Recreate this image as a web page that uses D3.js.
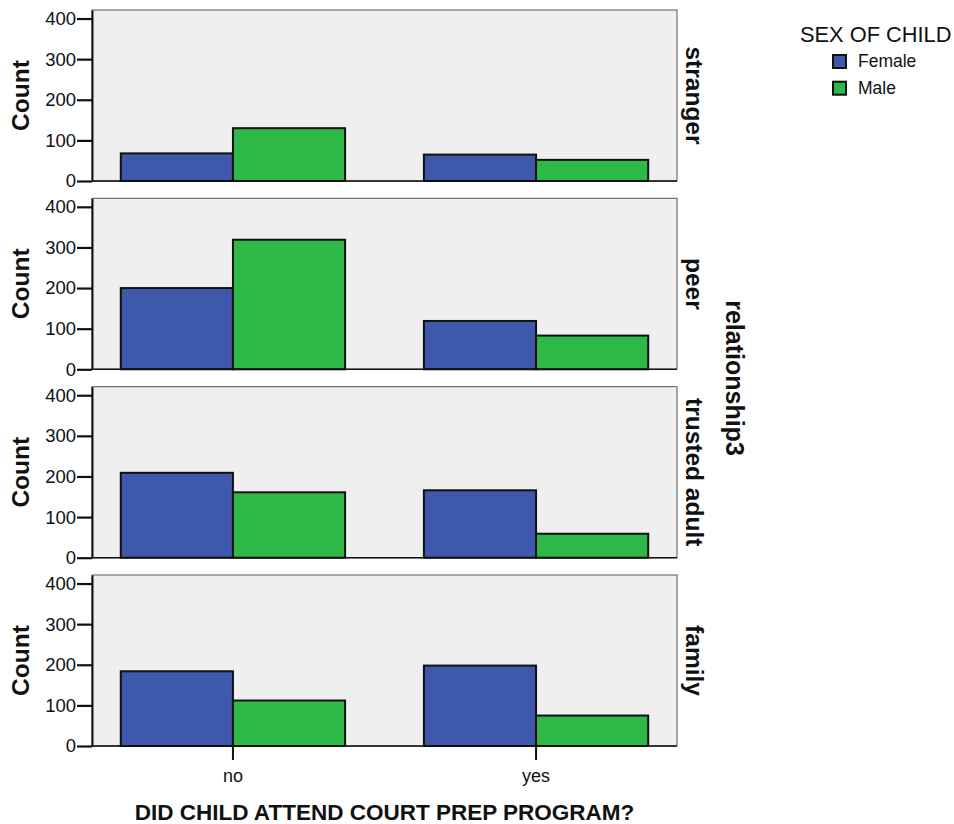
<!DOCTYPE html>
<html>
<head>
<meta charset="utf-8">
<script src="https://cdn.jsdelivr.net/npm/d3@7"></script>
<style>
  body { margin: 0; background: #fff; }
  svg { display: block; font-family: "Liberation Sans", Arial, sans-serif; }
</style>
</head>
<body>
<svg id="chart" width="954" height="824"></svg>
<script>
// ---- data ----
const categories = ["no", "yes"];
const relationships = ["stranger", "peer", "trusted adult", "family"];
const sexes = ["Female", "Male"];
const femaleCounts = [
  [68, 65],    // stranger
  [200, 119],  // peer
  [209, 166],  // trusted adult
  [184, 198]   // family
];
const maleCounts = [
  [130, 52],
  [319, 83],
  [161, 59],
  [112, 75]
];
const yTicks = [0, 100, 200, 300, 400];
const xTitle = "DID CHILD ATTEND COURT PREP PROGRAM?";
const yTitle = "Count";
const facetTitle = "relationship3";
const legendTitle = "SEX OF CHILD";

// ---- layout ----
const svg = d3.select("#chart");
const left = 92, right = 677;
const panelH = 171;
const panelTops = [10, 198.3, 386.7, 575];
const colors = d3.scaleOrdinal().domain(sexes).range(["#3E58AB", "#2EB848"]);

const x = d3.scaleBand().domain(categories).range([left, right])
  .paddingInner(0.26).paddingOuter(0.095);
const xs = d3.scaleBand().domain(sexes).range([0, x.bandwidth()]);

relationships.forEach((rel, i) => {
  const t = panelTops[i];
  const y = d3.scaleLinear().domain([0, 421]).range([t + panelH, t]);
  const g = svg.append("g");

  // panel background + frame
  g.append("rect").attr("x", left).attr("y", t).attr("width", right - left).attr("height", panelH)
    .attr("fill", "#EFEFEF").attr("stroke", "#555").attr("stroke-width", 1);

  // bars
  const rows = categories.map((c, ci) => ({c, vals: [
    {s: "Female", v: femaleCounts[i][ci]},
    {s: "Male", v: maleCounts[i][ci]}
  ]}));
  rows.forEach(r => {
    g.selectAll(null).data(r.vals).enter().append("rect")
      .attr("x", d => x(r.c) + xs(d.s))
      .attr("y", d => y(d.v))
      .attr("width", xs.bandwidth())
      .attr("height", d => y(0) - y(d.v))
      .attr("fill", d => colors(d.s))
      .attr("stroke", "#111").attr("stroke-width", 2);
  });

  // baseline
  g.append("line").attr("x1", left).attr("x2", right).attr("y1", y(0)).attr("y2", y(0))
    .attr("stroke", "#111").attr("stroke-width", 1.5);

  // y axis
  const ya = g.append("g").attr("transform", `translate(${left},0)`)
    .call(d3.axisLeft(y).tickValues(yTicks).tickSize(15).tickSizeOuter(0).tickPadding(1));
  ya.select(".domain").attr("stroke", "#111").attr("stroke-width", 2);
  ya.selectAll(".tick line").attr("stroke", "#111").attr("stroke-width", 2.2);
  ya.selectAll(".tick text").attr("font-size", 18.5).attr("fill", "#111")
    .attr("font-family", "Liberation Sans, Arial, sans-serif");

  // y title
  g.append("text").attr("transform", `translate(29,${t + panelH / 2}) rotate(-90)`)
    .attr("text-anchor", "middle").attr("font-size", 24.5).attr("font-weight", "bold")
    .attr("fill", "#111").text(yTitle);

  // facet label
  g.append("text").attr("transform", `translate(686,${t + panelH / 2}) rotate(90)`)
    .attr("text-anchor", "middle").attr("font-size", 24.5).attr("font-weight", "bold")
    .attr("fill", "#111").text(rel);

  if (i === relationships.length - 1) {
    const xa = g.append("g").attr("transform", `translate(0,${y(0)})`)
      .call(d3.axisBottom(x).tickSize(14).tickPadding(9));
    xa.select(".domain").remove();
    xa.selectAll(".tick line").attr("stroke", "#111").attr("stroke-width", 2);
    xa.selectAll(".tick text").attr("font-size", 18).attr("fill", "#111")
      .attr("font-family", "Liberation Sans, Arial, sans-serif");
  }
});

// x title
svg.append("text").attr("x", (left + right) / 2).attr("y", 820)
  .attr("text-anchor", "middle").attr("font-size", 22.5).attr("font-weight", "bold")
  .attr("fill", "#111").text(xTitle);

// facet title
svg.append("text").attr("transform", `translate(726,${(panelTops[0] + panelTops[3] + panelH) / 2}) rotate(90)`)
  .attr("text-anchor", "middle").attr("font-size", 25).attr("font-weight", "bold")
  .attr("fill", "#111").text(facetTitle);

// legend
const lg = svg.append("g");
lg.append("text").attr("x", 800).attr("y", 42).attr("font-size", 21.8).attr("fill", "#111").text(legendTitle);
const items = lg.selectAll("g.item").data(sexes).enter().append("g").attr("class", "item")
  .attr("transform", (d, k) => `translate(833,${55 + k * 26.7})`);
items.append("rect").attr("width", 13).attr("height", 13)
  .attr("fill", d => colors(d)).attr("stroke", "#111").attr("stroke-width", 2);
items.append("text").attr("x", 25).attr("y", 12).attr("font-size", 17.5).attr("fill", "#111").text(d => d);
</script>
</body>
</html>
